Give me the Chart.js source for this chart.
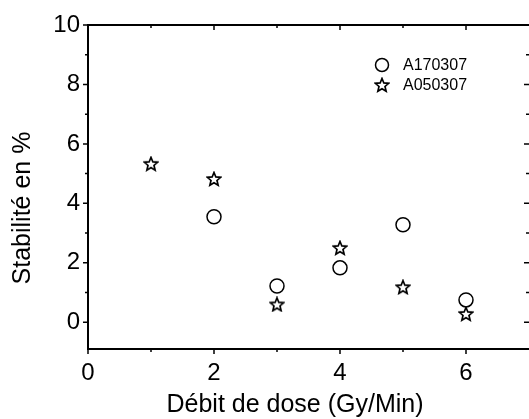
<!DOCTYPE html>
<html>
<head>
<meta charset="utf-8">
<script src="https://cdn.jsdelivr.net/npm/chart.js@4/dist/chart.umd.min.js"></script>
<style>
  html, body { margin: 0; padding: 0; background: #fff; }
  #wrap { width: 529px; height: 419px; }
</style>
</head>
<body>
<div id="wrap"><canvas id="chart" width="529" height="419"></canvas></div>
<script>
// valeurs
var doseA170307 = [2, 3, 4, 5, 6];
var stabA170307 = [3.55, 1.22, 1.83, 3.28, 0.75];
var doseA050307 = [1, 2, 3, 4, 5, 6];
var stabA050307 = [5.33, 4.82, 0.6, 2.5, 1.18, 0.28];
var xTicks = [0, 2, 4, 6];
var yTicks = [0, 2, 4, 6, 8, 10];
var xMinor = [1, 3, 5, 7];
var yMinor = [-1, 1, 3, 5, 7, 9];
var xTitle = 'Débit de dose (Gy/Min)';
var yTitle = 'Stabilité en %';

var fontFam = '"Liberation Sans", Arial, Helvetica, sans-serif';

function toPoints(xs, ys){
    var pts = [];
    xs.forEach(function(x, i){
        pts.push({x: x, y: ys[i]});
    });
    return pts;
}

// etoile a 5 branches (le style 'star' de Chart.js est un asterisque)
function makeStar(size){
    var c = document.createElement('canvas');
    c.width = size; c.height = size;
    var g = c.getContext('2d');
    var cx = size / 2, cy = size / 2 + 0.5;
    var ro = size / 2 - 1, ri = ro * 0.45;
    g.beginPath();
    for (var i = 0; i < 10; i++) {
        var r = (i % 2 == 0) ? ro : ri;
        var a = -Math.PI / 2 + i * Math.PI / 5;
        var px = cx + r * Math.cos(a), py = cy + r * Math.sin(a);
        if (i == 0) g.moveTo(px, py); else g.lineTo(px, py);
    }
    g.closePath();
    g.fillStyle = '#fff';
    g.fill();
    g.lineWidth = 1.7;
    g.strokeStyle = '#000';
    g.stroke();
    return c;
}
var starImg = makeStar(16);

// cadre, graduations, titres des axes et legende
var framePlugin = {
    id: 'frame',
    afterDraw: function(chart){
        var ctx = chart.ctx;
        var a = chart.chartArea;
        var xs = chart.scales.x, ys = chart.scales.y;
        ctx.save();
        ctx.strokeStyle = '#000';
        ctx.lineWidth = 2;
        ctx.beginPath();
        ctx.moveTo(a.left, a.top); ctx.lineTo(a.right + 1, a.top);
        ctx.moveTo(a.right + 1, a.top); ctx.lineTo(a.right + 1, a.bottom);
        ctx.stroke();

        ctx.lineWidth = 1.5;
        ctx.beginPath();
        yTicks.concat(yMinor).forEach(function(v){
            var py = ys.getPixelForValue(v);
            if (py < a.top - 1 || py > a.bottom + 1) return;
            var len = yTicks.indexOf(v) >= 0 ? 5 : 3;
            ctx.moveTo(a.left, py); ctx.lineTo(a.left - len, py);
            ctx.moveTo(a.right, py); ctx.lineTo(a.right - len, py);
        });
        xTicks.concat(xMinor).forEach(function(v){
            var px = xs.getPixelForValue(v);
            if (px < a.left - 1 || px > a.right - 1) return;
            var len = xTicks.indexOf(v) >= 0 ? 5 : 3;
            ctx.moveTo(px, a.bottom); ctx.lineTo(px, a.bottom + len);
            ctx.moveTo(px, a.top); ctx.lineTo(px, a.top + len);
        });
        ctx.stroke();

        // titres
        ctx.fillStyle = '#000';
        ctx.font = '25px ' + fontFam;
        ctx.textAlign = 'center';
        ctx.textBaseline = 'middle';
        ctx.fillText(xTitle, 295, 405);
        ctx.save();
        ctx.translate(23, 208);
        ctx.rotate(-Math.PI / 2);
        ctx.fillText(yTitle, 0, 0);
        ctx.restore();

        // legende
        var lx = 382, ly = 65, step = 20;
        ctx.font = '16px ' + fontFam;
        ctx.textAlign = 'left';
        chart.data.datasets.forEach(function(ds, i){
            var y = ly + i * step;
            if (ds.pointStyle === 'circle') {
                ctx.beginPath();
                ctx.lineWidth = 1.5;
                ctx.arc(lx, y, 6.5, 0, Math.PI * 2);
                ctx.stroke();
            } else {
                ctx.drawImage(starImg, lx - 8, y - 8);
            }
            ctx.fillText(ds.label, lx + 21, y + 1);
        });
        ctx.restore();
    }
};

var ctx = document.getElementById('chart').getContext('2d');
var scatter = new Chart(ctx, {
    type: 'scatter',
    data: {
        datasets: [{
            label: 'A170307',
            data: toPoints(doseA170307, stabA170307),
            pointStyle: 'circle',
            pointRadius: 7,
            pointHoverRadius: 7,
            borderColor: '#000',
            borderWidth: 1.5,
            backgroundColor: 'rgba(255,255,255,0)'
        }, {
            label: 'A050307',
            data: toPoints(doseA050307, stabA050307),
            pointStyle: starImg,
            pointRadius: 8,
            borderColor: '#000',
            backgroundColor: '#000'
        }]
    },
    options: {
        responsive: false,
        animation: false,
        layout: { autoPadding: false, padding: { top: 25, right: 0, bottom: 0, left: 0 } },
        plugins: {
            legend: { display: false },
            tooltip: { enabled: false }
        },
        scales: {
            x: {
                type: 'linear',
                min: 0,
                max: 7,
                afterBuildTicks: function(s){ s.ticks = xTicks.map(function(v){ return {value: v}; }); },
                afterFit: function(s){ s.height = 70; s.paddingRight = 0; },
                grid: { display: false },
                border: { display: true, color: '#000', width: 2 },
                ticks: { color: '#000', font: { family: fontFam, size: 24 }, padding: 2, maxRotation: 0 },
                title: { display: false }
            },
            y: {
                type: 'linear',
                min: -0.9,
                max: 10,
                afterBuildTicks: function(s){ s.ticks = yTicks.map(function(v){ return {value: v}; }); },
                afterFit: function(s){ s.width = 88; },
                grid: { display: false },
                border: { display: true, color: '#000', width: 2 },
                ticks: { color: '#000', font: { family: fontFam, size: 24 }, padding: 0 },
                title: { display: false }
            }
        }
    },
    plugins: [framePlugin]
});
</script>
</body>
</html>
